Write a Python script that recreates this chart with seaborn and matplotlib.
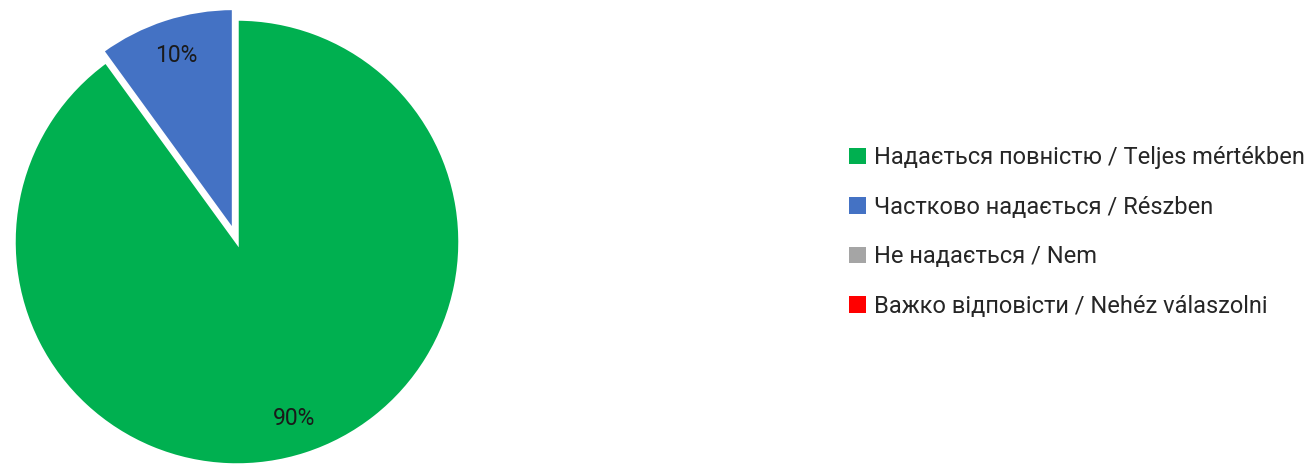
import matplotlib
matplotlib.use("Agg")
import matplotlib.pyplot as plt
import matplotlib.patches as mpatches
import seaborn as sns

# дані з діаграми
categories = [
    "Надається повністю / Teljes mértékben",
    "Частково надається / Részben",
    "Не надається / Nem",
    "Важко відповісти / Nehéz válaszolni",
]
shares = [90, 10, 0, 0]
colors = ["#00B050", "#4472C4", "#A5A5A5", "#FF0000"]
explode_amount = [0, 0.05, 0, 0]

sns.set_theme(style="white")
plt.rcParams["font.family"] = ["Roboto", "DejaVu Sans"]

fig = plt.figure(figsize=(13.12, 4.65), dpi=100)
# pie centre ~ (237, 242) px, radius ~223 px; axes spans +-1.25 units
r = 223
half = 1.25 * r
ax = fig.add_axes([(237 - half) / 1312, (465 - 242 - half) / 465,
                   2 * half / 1312, 2 * half / 465])

# only non-zero slices are drawn, legend keeps all categories
idx = [i for i, v in enumerate(shares) if v > 0]
wedges, texts, autotexts = ax.pie(
    [shares[i] for i in idx],
    colors=[colors[i] for i in idx],
    explode=[explode_amount[i] for i in idx],
    startangle=90,
    counterclock=False,
    autopct=lambda p: f"{p:.0f}%",
    pctdistance=0.83,
    wedgeprops=dict(edgecolor="white", linewidth=2.5),
    textprops=dict(fontsize=16.5, color="#1a1a1a"),
)
ax.set_xlim(-1.25, 1.25)
ax.set_ylim(-1.25, 1.25)
ax.set_aspect("equal")

handles = [mpatches.Patch(facecolor=c, edgecolor="none") for c in colors]
fig.legend(handles, categories, loc="center left",
           bbox_to_anchor=(849 / 1312, (465 - 232) / 465),
           frameon=False, fontsize=17, handlelength=0.7, handleheight=0.7,
           handletextpad=0.35, labelspacing=1.12, borderpad=0, borderaxespad=0)

fig.savefig("out.png", dpi=100)
plt.close(fig)
